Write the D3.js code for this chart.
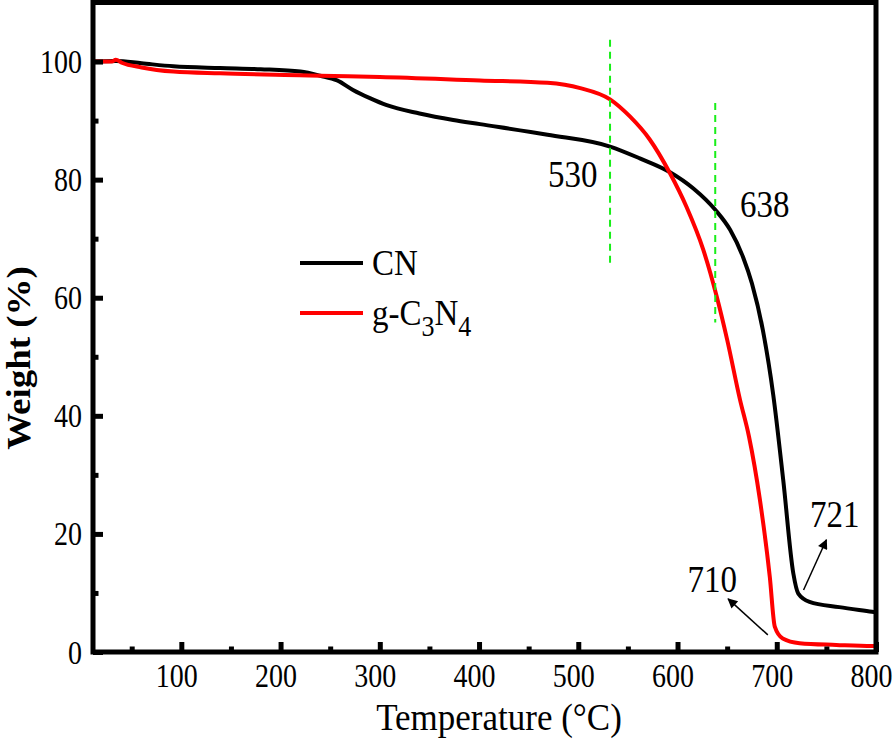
<!DOCTYPE html>
<html>
<head>
<meta charset="utf-8">
<script src="https://cdn.jsdelivr.net/npm/d3@7"></script>
<style>
  html, body { margin: 0; padding: 0; background: #fff; }
  svg { display: block; }
  text { font-family: "Liberation Serif", "Times New Roman", serif; fill: #000; }
</style>
</head>
<body>
<svg id="chart" width="894" height="745"></svg>
<script>
// ---- data ----
const cnTemp   = [11, 34, 60, 92, 139, 180, 220, 240, 257, 273, 290, 307, 340, 374, 401, 469, 532, 562, 592, 616, 638, 653, 666, 675, 686, 696.5, 706.6, 716.7, 721.7, 733, 763, 796, 800];
const cnWeight = [100, 100.1, 99.7, 99.2, 98.9, 98.7, 98.3, 97.6, 96.8, 95.2, 93.8, 92.6, 91.2, 90.1, 89.4, 87.6, 85.6, 83.6, 81.3, 78.5, 74.9, 71.5, 66.9, 62.4, 54.5, 43.5, 29.0, 13.3, 9.9, 8.5, 7.6, 6.8, 6.7];

const gcnTemp   = [11, 30, 34, 40, 60, 92, 139, 219, 240, 300, 401, 469, 502, 532, 552, 572, 592, 609, 626, 639.5, 650, 663, 672, 683, 693, 698, 706, 723, 760, 796, 800];
const gcnWeight = [100, 100, 100.3, 99.8, 99, 98.3, 98, 97.7, 97.6, 97.4, 96.8, 96.4, 95.5, 93.6, 90.7, 86.8, 81.2, 75.4, 68.1, 60.2, 52.9, 42.7, 36.5, 25.8, 12.7, 4.3, 2.3, 1.5, 1.2, 1.0, 1.0];

const xTicks = [100, 200, 300, 400, 500, 600, 700, 800];
const xMinorTicks = [50, 150, 250, 350, 450, 550, 650, 750];
const yTicks = [0, 20, 40, 60, 80, 100];
const yMinorTicks = [10, 30, 50, 70, 90];

// guide lines: [temperature, weight from, weight to]
const guides = [[532, 65.9, 103.7], [638, 55.8, 93]];
// annotations: [text, temperature, weight]
const notes = [["530", 469.5, 78.8], ["638", 663, 73.6], ["721", 733.5, 21.2], ["710", 610, 10.2]];
// arrows: [fromT, fromW, toT, toW]
const arrows = [[727, 10.5, 750, 19], [691, 2.9, 651, 9]];

// ---- layout ----
const svg = d3.select("#chart");
const X0 = 93, X1 = 876, Y0 = 652, Y1 = 2.5;
const x = d3.scaleLinear().domain([11, 800]).range([X0, X1]);
const y = d3.scaleLinear().domain([0, 110]).range([Y0, Y1]);

const defs = svg.append("defs");
defs.append("marker").attr("id", "ah").attr("viewBox", "0 0 10 10")
  .attr("refX", 9).attr("refY", 5).attr("markerWidth", 14).attr("markerHeight", 10)
  .attr("markerUnits", "userSpaceOnUse").attr("orient", "auto")
  .append("path").attr("d", "M0,0 L10,5 L0,10 Z").attr("fill", "#000");

// curves
const line = d3.line().x(d => x(d[0])).y(d => y(d[1])).curve(d3.curveMonotoneX);
const cn = d3.zip(cnTemp, cnWeight);
const gcn = d3.zip(gcnTemp, gcnWeight);

svg.append("path").datum(cn).attr("d", line).attr("fill", "none")
  .attr("stroke", "#000").attr("stroke-width", 4).attr("stroke-linejoin", "round");
svg.append("path").datum(gcn).attr("d", line).attr("fill", "none")
  .attr("stroke", "#ff0000").attr("stroke-width", 4).attr("stroke-linejoin", "round");

// green guides
svg.selectAll("line.guide").data(guides).join("line").attr("class", "guide")
  .attr("x1", d => x(d[0])).attr("x2", d => x(d[0]))
  .attr("y1", d => y(d[2])).attr("y2", d => y(d[1]))
  .attr("stroke", "#19ee19").attr("stroke-width", 2).attr("stroke-dasharray", "7,5");

// annotations
svg.selectAll("text.note").data(notes).join("text").attr("class", "note")
  .attr("transform", d => `translate(${x(d[1])},${y(d[2])}) scale(1,1.12)`)
  .style("font-size", "33px").text(d => d[0]);

svg.selectAll("line.arrow").data(arrows).join("line").attr("class", "arrow")
  .attr("x1", d => x(d[0])).attr("y1", d => y(d[1]))
  .attr("x2", d => x(d[2])).attr("y2", d => y(d[3]))
  .attr("stroke", "#000").attr("stroke-width", 1.5).attr("marker-end", "url(#ah)");

// axes
const fmtStyle = (g) => g.select(".domain").remove();

const gx = svg.append("g").attr("transform", `translate(0,${Y0})`)
  .call(d3.axisBottom(x).tickValues(xTicks).tickSizeInner(-10).tickSizeOuter(0))
  .call(fmtStyle);
gx.selectAll("line").attr("stroke", "#000").attr("stroke-width", 5);
gx.selectAll("text").attr("y", null).attr("dy", null)
  .attr("transform", "translate(-5,35) scale(1,1.2)")
  .style("font-size", "28px").attr("fill", "#000");

const gxm = svg.append("g").attr("transform", `translate(0,${Y0})`)
  .call(d3.axisBottom(x).tickValues(xMinorTicks).tickSizeInner(-5.5).tickSizeOuter(0).tickFormat(""))
  .call(fmtStyle);
gxm.selectAll("line").attr("stroke", "#000").attr("stroke-width", 5);

const gy = svg.append("g").attr("transform", `translate(${X0},0)`)
  .call(d3.axisLeft(y).tickValues(yTicks).tickSizeInner(-10).tickSizeOuter(0))
  .call(fmtStyle);
gy.selectAll("line").attr("stroke", "#000").attr("stroke-width", 5);
gy.selectAll("text").attr("x", null).attr("dy", null)
  .attr("transform", "translate(-11,11) scale(1,1.2)")
  .style("font-size", "28px").attr("fill", "#000");

const gym = svg.append("g").attr("transform", `translate(${X0},0)`)
  .call(d3.axisLeft(y).tickValues(yMinorTicks).tickSizeInner(-5.5).tickSizeOuter(0).tickFormat(""))
  .call(fmtStyle);
gym.selectAll("line").attr("stroke", "#000").attr("stroke-width", 5);

// frame
svg.append("rect").attr("x", X0).attr("y", Y1).attr("width", X1 - X0).attr("height", Y0 - Y1)
  .attr("fill", "none").attr("stroke", "#000").attr("stroke-width", 5);

// axis titles
svg.append("text").attr("transform", "translate(499,730) scale(1,1.1)")
  .attr("text-anchor", "middle").style("font-size", "35px").text("Temperature (°C)");
svg.append("text").attr("transform", "translate(30,358) rotate(-90) scale(1.12,1)")
  .attr("text-anchor", "middle").style("font-size", "33px").style("font-weight", "bold")
  .text("Weight (%)");

// legend
const legend = [
  { name: "CN", color: "#000", y: 263 },
  { name: "g-C3N4", color: "#ff0000", y: 313 }
];
legend.forEach(d => {
  svg.append("line").attr("x1", 300).attr("x2", 363).attr("y1", d.y).attr("y2", d.y)
    .attr("stroke", d.color).attr("stroke-width", 4);
});
svg.append("text").attr("transform", "translate(372,274.5) scale(1,1.1)")
  .style("font-size", "33px").text("CN");
const t2 = svg.append("text").attr("transform", "translate(372,325) scale(1,1.1)")
  .style("font-size", "33px");
t2.append("tspan").text("g-C");
t2.append("tspan").attr("dy", 10).style("font-size", "26px").text("3");
t2.append("tspan").attr("dy", -10).text("N");
t2.append("tspan").attr("dy", 10).style("font-size", "26px").text("4");
</script>
</body>
</html>
